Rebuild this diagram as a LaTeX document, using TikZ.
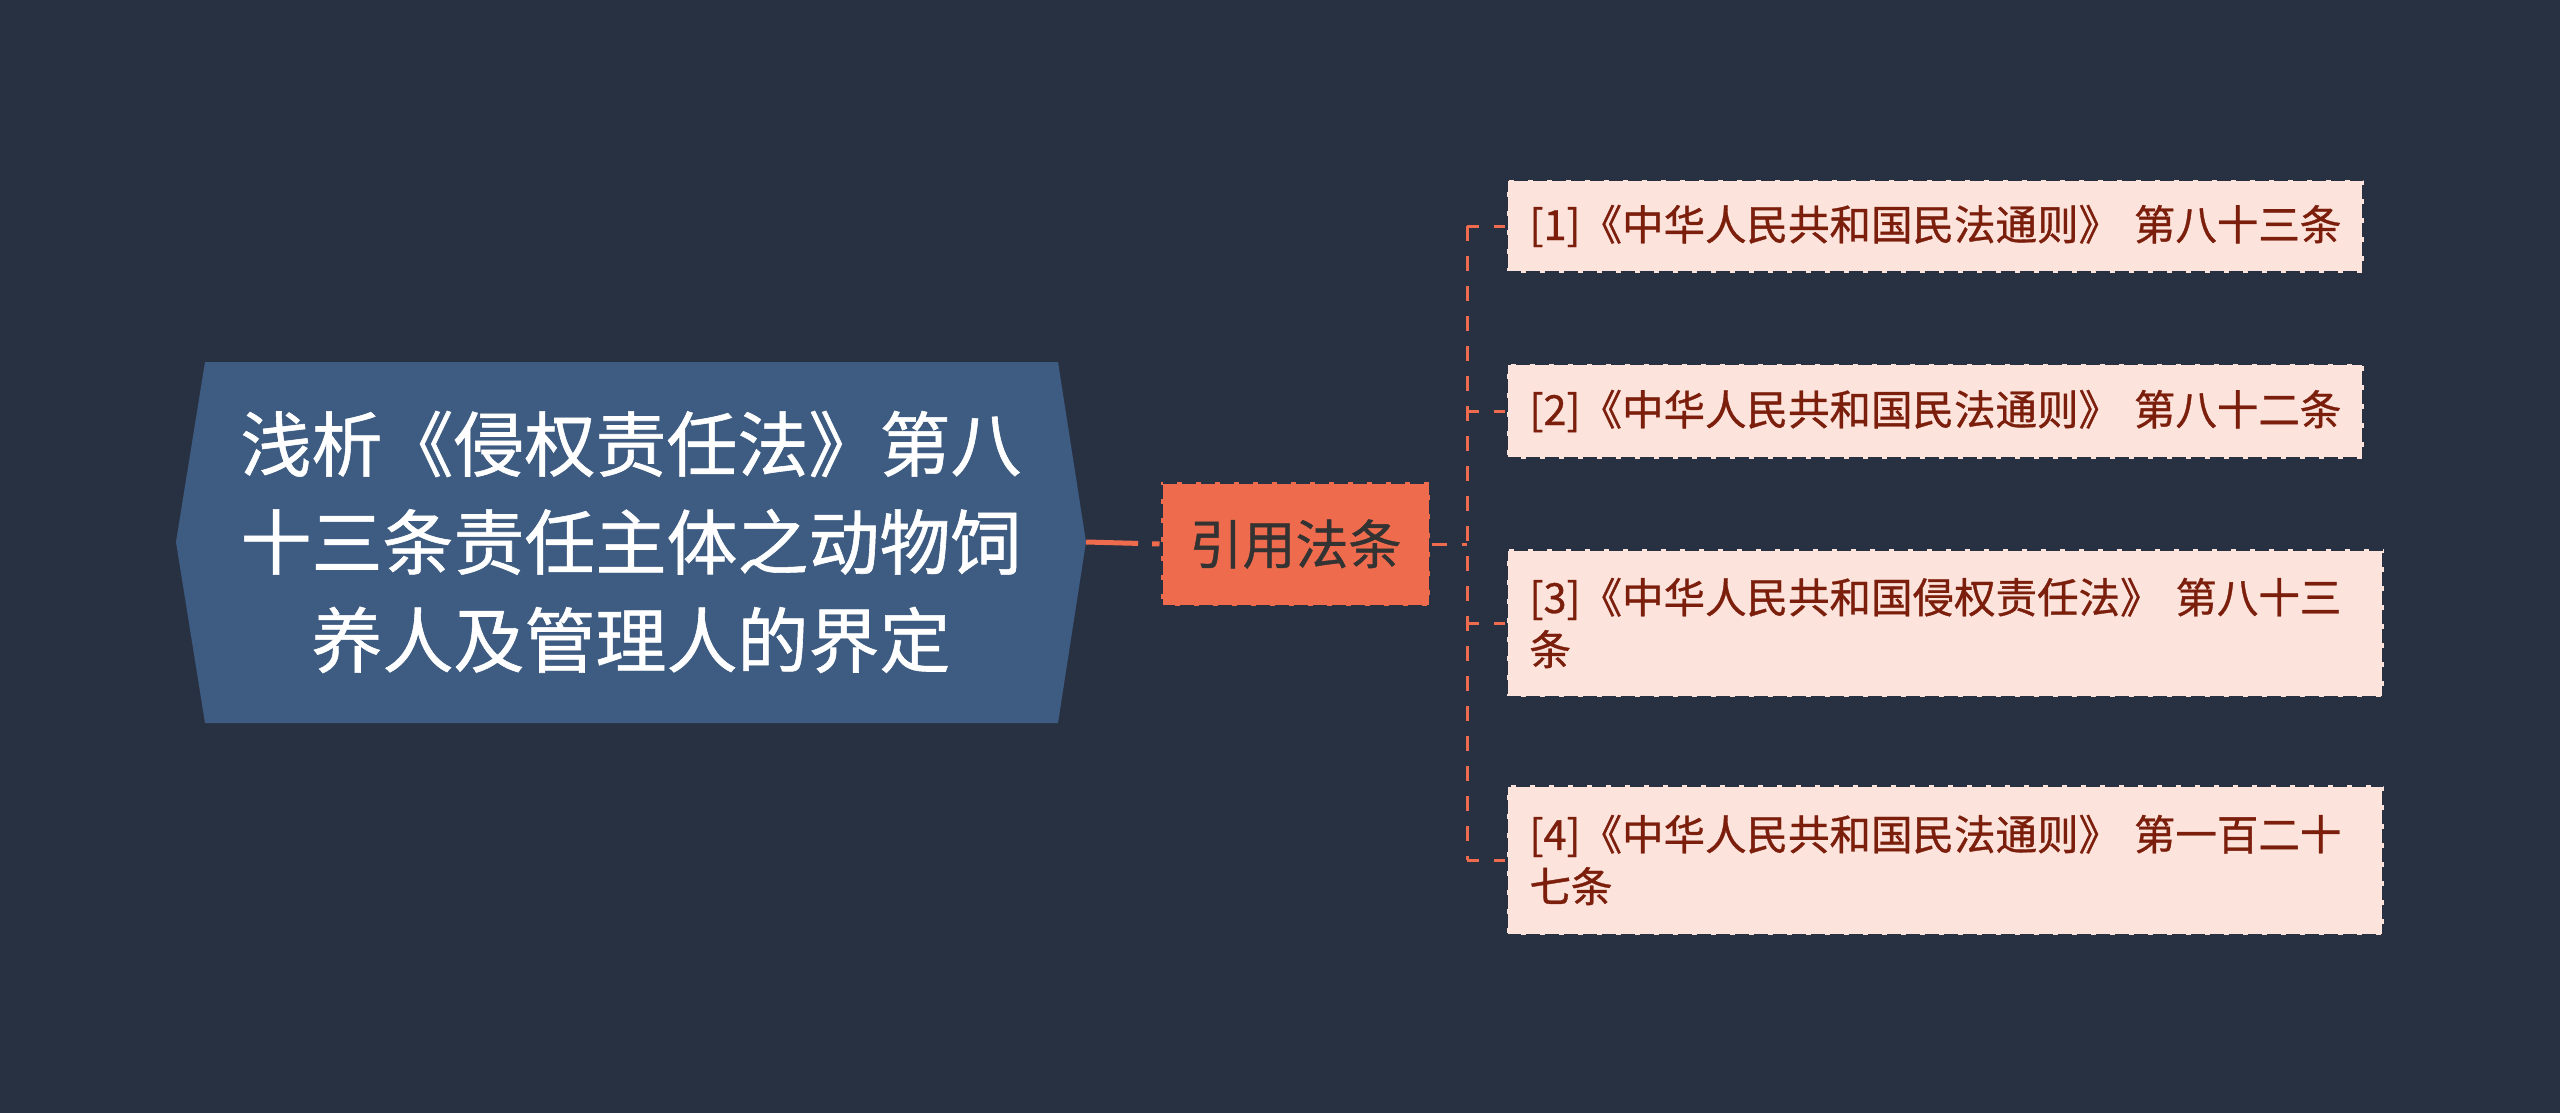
\documentclass[tikz,border=0pt]{standalone}
\usepackage{fontspec}
\newfontfamily\cjk[FakeBold=0.8]{Noto Sans CJK SC}
\definecolor{bg}{HTML}{283142}
\definecolor{rootblue}{HTML}{3E5C82}
\definecolor{coral}{HTML}{EE6C4D}
\definecolor{pinkfill}{HTML}{FCE3DC}
\definecolor{childtext}{HTML}{7B1E0C}
\definecolor{midtext}{HTML}{333333}
\begin{document}
\begin{tikzpicture}[x=1pt,y=-1pt,
  roottext/.style={text=white, font=\cjk\fontsize{71pt}{98pt}\selectfont, align=center,
    minimum width=910pt, minimum height=361pt, inner sep=0pt},
  midbox/.style={fill=coral, draw=bg, line width=3pt, dash pattern=on 14pt off 5pt,
    text=midtext, font=\cjk\fontsize{53pt}{60pt}\selectfont,
    minimum width=269pt, minimum height=124pt, inner sep=0pt},
  childbox/.style={fill=pinkfill, draw=bg, line width=3pt, dash pattern=on 14pt off 5pt,
    text=childtext, font=\cjk\fontsize{41.5pt}{52pt}\selectfont, align=left,
    inner xsep=23pt, inner ysep=0pt, anchor=west},
  link/.style={draw=coral, line width=3pt, dash pattern=on 15pt off 15pt},
  mainlink/.style={draw=coral, line width=5pt, dash pattern=on 52pt off 14pt}
]
\useasboundingbox (0,0) rectangle (2560,1113);
\fill[bg] (0,0) rectangle (2560,1113);

% root hexagon
\fill[rootblue] (205,362) -- (1058,362) -- (1086,542) -- (1058,723) -- (205,723) -- (176,542) -- cycle;
\node[roottext] (root) at (631,542) {浅析《侵权责任法》第八\\十三条责任主体之动物饲\\养人及管理人的界定};

% middle
\node[midbox] (mid) at (1295.5,544) {引用法条};

% children
\node[childbox, text width=811pt, minimum height=93pt] (c1) at (1505,226)
  {\mbox{[1]《中华人民共和国民法通则》 第八十三条}};
\node[childbox, text width=811pt, minimum height=95pt] (c2) at (1505,411)
  {\mbox{[2]《中华人民共和国民法通则》 第八十二条}};
\node[childbox, text width=831pt, minimum height=148pt] (c3) at (1505,623)
  {\mbox{[3]《中华人民共和国侵权责任法》 第八十三}\\条};
\node[childbox, text width=831pt, minimum height=150pt] (c4) at (1505,860)
  {\mbox{[4]《中华人民共和国民法通则》 第一百二十}\\七条};

% connectors
\draw[mainlink] (root.east) -- (mid.west);
\coordinate (j) at (1467,544);
\draw[link] (mid.east) -- (j);
\draw[link] (j |- c1.west) -- (j |- c4.west);
\foreach \c in {c1,c2,c3,c4}{
  \draw[link, dash phase=3pt] (j |- \c.west) -- (\c.west);
}
\end{tikzpicture}
\end{document}
